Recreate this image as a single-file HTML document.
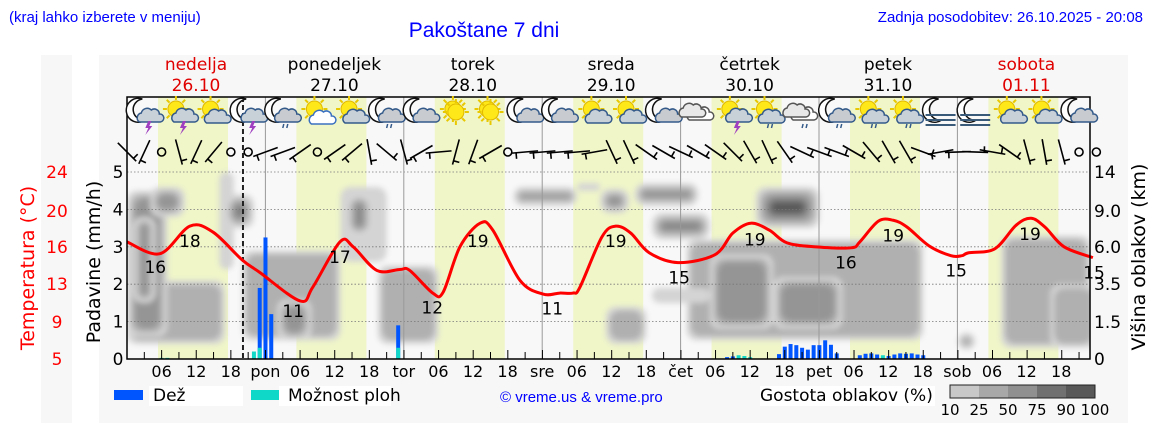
<!DOCTYPE html>
<html><head><meta charset="utf-8"><style>
html,body{margin:0;padding:0;background:#fff;width:1152px;height:443px;overflow:hidden}
svg text{font-family:"DejaVu Sans","Liberation Sans",sans-serif}
</style></head><body>
<svg id="c" width="1152" height="443" viewBox="0 0 1152 443" xmlns="http://www.w3.org/2000/svg">
<rect x="41" y="55" width="31" height="368" fill="#f7f7f7"/>
<rect x="99" y="55" width="1029" height="368" fill="#f7f7f7"/>
<text x="9" y="22" font-size="15" fill="#0000ff" style="font-family:'Liberation Sans',sans-serif">(kraj lahko izberete v meniju)</text>
<text x="484" y="37" font-size="21" fill="#0000ff" text-anchor="middle" style="font-family:'Liberation Sans',sans-serif">Pakoštane 7 dni</text>
<text x="1143" y="22" font-size="15" fill="#0000ff" text-anchor="end" style="font-family:'Liberation Sans',sans-serif">Zadnja posodobitev: 26.10.2025 - 20:08</text>
<g id="plot"></g>
</svg>
<script>
const NS="http://www.w3.org/2000/svg";
// ---- data ----
const dayNames=["nedelja","ponedeljek","torek","sreda","četrtek","petek","sobota"];
const dayDates=["26.10","27.10","28.10","29.10","30.10","31.10","01.11"];
const dayShort=["","pon","tor","sre","čet","pet","sob"];
const tempHours=[0,5.7,10.9,14.9,19.9,23,30,32.2,36.9,39.2,43.3,47.3,49,53,54.8,57.7,61.2,63.4,68.1,72.1,75,77.3,78.5,82.3,84.7,87.3,90.5,95.5,101.9,105,108.1,111.3,114.4,119.4,125.5,127,130.2,132.8,135.2,139,142.8,144.7,145.9,150.4,154.1,156.7,159.1,162.4,167.4];
const tempValues=[16.9,15.7,18.5,17.9,15.1,13.8,10.9,12.3,16.9,16.4,14.0,14.1,14.0,11.7,11.8,16.4,18.8,18.1,13.0,11.6,11.7,11.7,12.3,17.4,18.5,17.8,15.8,14.8,15.6,17.8,18.8,18.1,16.8,16.4,16.3,16.9,19.0,19.1,18.4,16.5,15.5,15.5,15.8,16.2,18.6,19.3,18.4,16.4,15.3];
const tempLabelHours=[4.9,10.9,28.8,36.9,52.9,60.8,73.7,84.7,95.7,108.8,124.6,132.8,143.7,156.5,167.6];
const tempLabelValues=[16,18,11,17,12,19,11,19,15,19,16,19,15,19,15];
const rainHours=[6,7,22,23,24,25,26,47,104,105,106,107,108,113,114,115,116,117,118,119,120,121,122,123,127,128,129,130,131,132,133,134,135,136,137,138];
const rainValues=[0,0,0,1.9,3.25,1.2,0,0.9,0.05,0.07,0,0,0,0.13,0.33,0.4,0.37,0.3,0.25,0.37,0.37,0.5,0.38,0.15,0.1,0.14,0.15,0.12,0,0.08,0.12,0.15,0.14,0.15,0.12,0.1];
const showerValues=[0.03,0.03,0.2,0.3,0,0,0,0.3,0,0,0.1,0.08,0.05,0,0,0,0,0,0,0,0,0,0,0,0,0,0,0,0.1,0,0,0,0,0,0,0];
// cloud blobs: [hourStart, hourEnd, levelBottom, levelTop, densityClass 0-4]
const clouds=[[0,17,0.4,2.1,1],[0,7,0.6,4.5,2],[1,5,1.5,3.8,3],[4,10,3.8,4.6,2],[16,18.5,2.4,5,0],[17,22,3.5,4.4,4],[20,37,0.5,2.9,1],[26,32,0.5,1.6,2],[37,45,2.6,4.6,0],[38,42.5,3.3,4.4,4],[43.5,54,0.4,2.5,1],[67,78,4.1,4.6,3],[78,82,4.5,4.7,0],[82,87,3.9,4.55,3],[88,99,4.1,4.7,2],[91,101,3.2,3.9,3],[109,120,3.5,4.6,4],[97,138,0.5,3.2,1],[101,112,0.8,2.8,2],[112,124,0.8,2.2,2],[83,90,0.4,1.4,1],[91,101,1.5,1.9,0],[144,147,0.25,0.7,4],[151.5,167,0.3,3.3,1],[160,168,0.3,2.0,1]];
const iconTypes=["moonstorm","sunstorm","suncloud","moonstorm","moonrain","sunwhite","suncloud","moonrain","mooncloud","sun","sun","mooncloud","mooncloud","suncloud","suncloud","mooncloud","cloud","sunstorm","sunrain","cloudrain","moonrain","sunrain","sunrain","moonfog","moonfog","suncloud","suncloud","mooncloud"];
const windAngles=[-45,25,null,-15,25,40,null,null,70,70,55,null,55,50,-10,-50,-15,60,85,15,20,60,null,85,85,85,85,80,-25,-25,-55,-60,-65,-60,-55,-45,-30,-25,-35,-65,-70,-70,-60,-40,-30,-30,-70,80,88,-88,-80,-55,-15,-10,-15,null,null];
const tempTicks=[24,20,16,13,9,5];
const rainTicks=[0,1,2,3,4,5];
const cloudTicks=["14","9.0","6.0","3.5","1.5","0"];
const hourTicks=["06","12","18"];
// ---- geometry ----
const X0=127,X1=1090,Y0=359,YT=97,HW=5.77;
const xH=h=>X0+h*HW;
const yP=v=>Y0-v*37.4;
const yT=t=>Y0-(t-5)*9.84;
const g=document.getElementById('plot');
function el(tag,attrs,parent){const e=document.createElementNS(NS,tag);for(const k in attrs)e.setAttribute(k,attrs[k]);(parent||g).appendChild(e);return e;}
function txt(x,y,s,attrs,parent){const e=el('text',Object.assign({x:x,y:y},attrs),parent);e.textContent=s;return e;}
const bg=el('rect',{x:X0,y:YT,width:X1-X0,height:Y0-YT,fill:'#f8f8f8'});


for(let d=0;d<7;d++){const r=el('rect',{x:X0+d*138.4+31,y:YT,width:70,height:Y0-YT,fill:'#f0f6c8'});

}
const defs=el('defs',{});
const f=el('filter',{id:'bl',x:'-20%',y:'-20%',width:'140%',height:'140%'},defs);
el('feGaussianBlur',{stdDeviation:'3'},f);
const cloudCols=['#d4d4d4','#b0b0b0','#959595','#777777','#585858'];
const cp=el('clipPath',{id:'pc'},defs);el('rect',{x:X0,y:YT,width:X1-X0,height:Y0-YT},cp);
const cg=el('g',{filter:'url(#bl)','clip-path':'url(#pc)'});
clouds.forEach(c=>{for(let d=0;d<=c[4];d++){const ins=d*4;const x=xH(c[0])+ins,w=xH(c[1])-xH(c[0])-2*ins,y=yP(c[3])+ins,h=yP(c[2])-yP(c[3])-2*ins;if(w<=0||h<=0)continue;
const r=el('rect',{x:x,y:y,width:w,height:h,rx:Math.min(10,w/2,h/2),fill:cloudCols[d]},cg);

}});
rainTicks.slice(1).forEach(v=>{const l=el('line',{x1:X0,x2:X1,y1:yP(v),y2:yP(v),stroke:'#777','stroke-width':0.8,'stroke-dasharray':'1.5,2'});

});
for(let d=1;d<7;d++){const l=el('line',{x1:X0+d*138.4,x2:X0+d*138.4,y1:YT,y2:Y0,stroke:'#999','stroke-width':1});

}
const nl=el('line',{x1:xH(20.1),x2:xH(20.1),y1:YT,y2:Y0,stroke:'#222','stroke-width':2,'stroke-dasharray':'5,3'});


rainHours.forEach((h,i)=>{const x=xH(h)-2;const r=rainValues[i],s=showerValues[i];
if(r>0){const b=el('rect',{x:x,y:yP(r),width:4,height:Y0-yP(r),fill:'#0055ff'});

}
if(s>0){const b=el('rect',{x:x,y:yP(s),width:4,height:Y0-yP(s),fill:'#12d8c8'});

}});
const pts=tempHours.map((h,i)=>[xH(h),yT(tempValues[i])]);
let dstr='M'+pts[0][0]+','+pts[0][1];
for(let i=0;i<pts.length-1;i++){const p0=pts[Math.max(0,i-1)],p1=pts[i],p2=pts[i+1],p3=pts[Math.min(pts.length-1,i+2)];
dstr+=` C${p1[0]+(p2[0]-p0[0])/6},${p1[1]+(p2[1]-p0[1])/6} ${p2[0]-(p3[0]-p1[0])/6},${p2[1]-(p3[1]-p1[1])/6} ${p2[0]},${p2[1]}`;}
const tc=el('path',{d:dstr,fill:'none',stroke:'#ff0000','stroke-width':3,'stroke-linejoin':'round'});


function curveY(h){for(let i=0;i<tempHours.length-1;i++){if(h<=tempHours[i+1]){const t=(h-tempHours[i])/(tempHours[i+1]-tempHours[i]);return yT(tempValues[i]+t*(tempValues[i+1]-tempValues[i]));}}return yT(tempValues[tempValues.length-1]);}
tempLabelHours.forEach((h,i)=>{const t=txt(xH(h),curveY(Math.min(h,167.4))+21,String(tempLabelValues[i]),{'font-size':17,'text-anchor':'middle',fill:'#000'});

});
const bd=el('path',{d:`M${X0},${YT} H${X1} V${Y0} H${X0} Z`,fill:'none',stroke:'#000','stroke-width':1.5});


for(let h=3;h<168;h+=3){el('line',{x1:xH(h),x2:xH(h),y1:Y0,y2:Y0-(h%6==0?9:7),stroke:'#000','stroke-width':1});}
for(let d=0;d<7;d++){
 hourTicks.forEach((s,j)=>{const t=txt(X0+d*138.4+(j+1)*34.6,377,s,{'font-size':16,'text-anchor':'middle'});
 
 });
 if(d>0){const t=txt(X0+d*138.4,377,dayShort[d],{'font-size':16,'text-anchor':'middle'});
 
 }
 const col=(d==0||d==6)?'#e00000':'#000';
 const a=txt(X0+d*138.4+69,70,dayNames[d],{'font-size':17,'text-anchor':'middle',fill:col});
 
 
 const b=txt(X0+d*138.4+69,91,dayDates[d],{'font-size':17,'text-anchor':'middle',fill:col});
 
 
}
const tyPix=[172,211,247,284,322,359];
tempTicks.forEach((v,i)=>{const t=txt(57,tyPix[i]+6,String(v),{'font-size':17,'text-anchor':'middle',fill:'#ff0000'});

});
rainTicks.forEach(v=>{const t=txt(118,yP(v)+6,String(v),{'font-size':17,'text-anchor':'middle'});

});
cloudTicks.forEach((s,i)=>{const t=txt(1094,tyPix[i]+6,s,{'font-size':17});

});
const t1=txt(0,0,'Temperatura (°C)',{'font-size':19,fill:'#ff0000','text-anchor':'middle',transform:'translate(34,268) rotate(-90)'});


const t2=txt(0,0,'Padavine (mm/h)',{'font-size':19,'text-anchor':'middle',transform:'translate(100,262) rotate(-90)'});


const t3=txt(0,0,'Višina oblakov (km)',{'font-size':19,'text-anchor':'middle',transform:'translate(1145,257) rotate(-90)'});


windAngles.forEach((a,k)=>{const cx=xH(k*3),cy=152;
 if(a===null){const c=el('circle',{cx:cx,cy:cy,r:4,fill:'none',stroke:'#000','stroke-width':1.6});
 
 return;}
 const r=a*Math.PI/180,L=13,dx=Math.sin(r)*L,dy=-Math.cos(r)*L;
 const gg=el('g',{stroke:'#000','stroke-width':1.6,fill:'none'});
 
 
 el('line',{x1:cx-dx,y1:cy-dy,x2:cx+dx,y2:cy+dy},gg);
 const bx=cx-dx*0.7,by=cy-dy*0.7;const pr=r+Math.PI/2;
 el('line',{x1:bx,y1:by,x2:bx+Math.sin(pr)*6,y2:by-Math.cos(pr)*6},gg);
});
function sun(cx,cy,p){for(let i=0;i<8;i++){const a=i*Math.PI/4;el('line',{x1:cx+Math.cos(a)*9,y1:cy+Math.sin(a)*9,x2:cx+Math.cos(a)*13,y2:cy+Math.sin(a)*13,stroke:'#e8c800','stroke-width':2},p);}el('circle',{cx:cx,cy:cy,r:8,fill:'#ffe81a',stroke:'#e0b800','stroke-width':1},p);}
function moon(cx,cy,p){el('path',{d:`M${cx+3},${cy-12} A12,12 0 1,0 ${cx+6},${cy+9} A10,10 0 1,1 ${cx+3},${cy-12} Z`,fill:'#fff',stroke:'#111','stroke-width':1.5},p);}
function cloud(cx,cy,p,fill,st){el('path',{d:`M${cx-11},${cy+6} a5,5 0 0,1 2,-9 a6,6 0 0,1 10,-3 a5,5 0 0,1 8,4 a4,4 0 0,1 1,8 Z`,fill:fill,stroke:st||'#345a8a','stroke-width':1.5},p);}
function bolt(cx,cy,p){el('path',{d:`M${cx},${cy} l-3,7 h3 l-3,7 l7,-9 h-3 l2,-5 Z`,fill:'#a040c0'},p);}
function rainm(cx,cy,p){el('path',{d:`M${cx-2},${cy} l-1,4 M${cx+2},${cy} l-1,4`,stroke:'#345a8a','stroke-width':1.5},p);}
iconTypes.forEach((t,i)=>{const cx=xH(3+6*i),cy=113;const p=el('g',{});
 
 
 if(t.startsWith('moon'))moon(cx-5,cy-2,p);
 if(t.startsWith('sun'))sun(cx-3,cy-4,p);
 if(t=='sun'){sun(cx,cy-1,p);}
 if(t=='moonstorm'||t=='sunstorm'){cloud(cx+6,cy+3,p,'#c8d0d8');bolt(cx+4,cy+8,p);}
 if(t=='suncloud'||t=='sunrain')cloud(cx+4,cy+4,p,'#c8d0d8');
 if(t=='sunwhite')cloud(cx+5,cy+5,p,'#fff','#3a70c0');
 if(t=='moonrain'||t=='mooncloud')cloud(cx+5,cy+3,p,'#c8ccd0');
 if(t=='moonrain'||t=='sunrain'||t=='cloudrain')rainm(cx+3,cy+11,p);
 if(t=='cloud'||t=='cloudrain'){cloud(cx+2,cy+1,p,'#fff','#555');cloud(cx-6,cy-2,p,'#e8e8e8','#555');}
 if(t=='moonfog'){for(let j=0;j<3;j++)el('line',{x1:cx-15,x2:cx+15,y1:cy+2+j*5,y2:cy+2+j*5,stroke:'#3a5a7a','stroke-width':2},p);}
});
const lg=el('g',{});


el('rect',{x:149,y:386,width:94,height:20,fill:'#fff'},lg);
el('rect',{x:279,y:386,width:112,height:20,fill:'#fff'},lg);
el('rect',{x:760,y:386,width:175,height:20,fill:'#fff'},lg);
const l1=el('rect',{x:114,y:390,width:29,height:10,fill:'#0055ff'},lg);


txt(153,401,'Dež',{'font-size':17},lg);
const l2=el('rect',{x:251,y:390,width:28,height:10,fill:'#0fd8c8'},lg);


txt(288,401,'Možnost ploh',{'font-size':17},lg);
const cr=txt(500,402,'© vreme.us & vreme.pro',{'font-size':15,fill:'#0000ff'},lg);
cr.style.fontFamily="'Liberation Sans',sans-serif";


txt(760,401,'Gostota oblakov (%)',{'font-size':17},lg);
const scaleCols=['#c8c8c8','#a8a8a8','#909090','#707070','#585858'];
scaleCols.forEach((c,i)=>{const r=el('rect',{x:950+i*29,y:385,width:29,height:13,fill:c},lg);

});
el('rect',{x:950,y:385,width:145,height:13,fill:'none',stroke:'#222','stroke-width':1},lg);
['10','25','50','75','90','100'].forEach((s,i)=>txt(950+i*29,415,s,{'font-size':15,'text-anchor':'middle'},lg));
</script>
</body></html>
